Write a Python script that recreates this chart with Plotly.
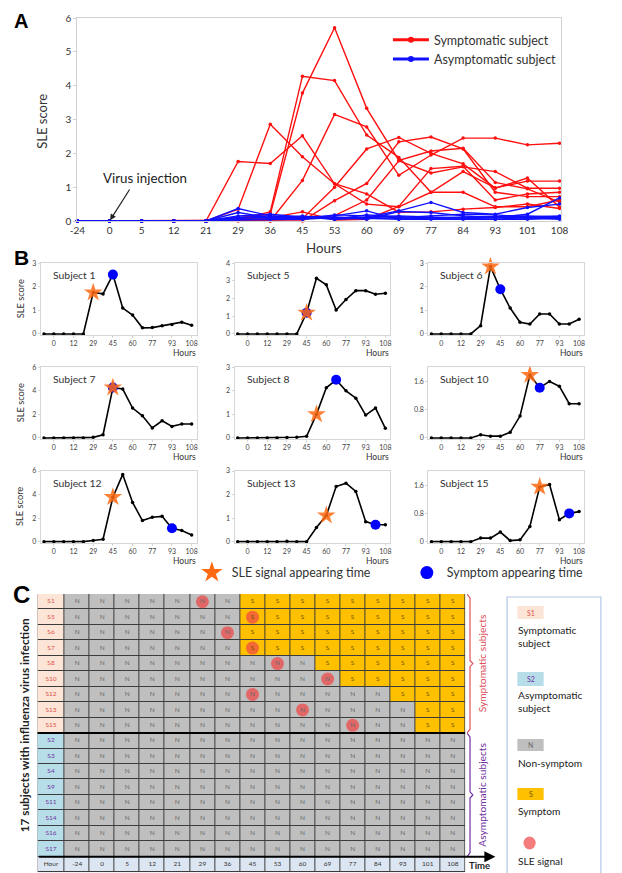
import plotly.graph_objects as go

# The page body adds an 8 px margin, so the figure is drawn 8 px smaller and
# every reference pixel position is shifted by that margin.
PAGE_W, PAGE_H, OFF = 622, 873, 8
W, H = PAGE_W - OFF, PAGE_H - OFF
FONT = "Lato"

# ---------------- data ----------------
hours = [-24, 0, 5, 12, 21, 29, 36, 45, 53, 60, 69, 77, 84, 93, 101, 108]
b_tick_hours = [0, 12, 29, 45, 60, 77, 93, 108]

sym_ids = ["S1", "S5", "S6", "S7", "S8", "S10", "S12", "S13", "S15"]
sym_titles = ["Subject 1", "Subject 5", "Subject 6", "Subject 7", "Subject 8",
              "Subject 10", "Subject 12", "Subject 13", "Subject 15"]
asym_ids = ["S2", "S3", "S4", "S9", "S11", "S14", "S16", "S17"]

sle_s1 = [0, 0, 0, 0, 0, 1.76, 1.70, 2.52, 1.10, 0.80, 0.26, 0.27, 0.35, 0.40, 0.50, 0.37]
sle_s5 = [0, 0, 0, 0, 0, 0, 0, 1.20, 3.15, 2.78, 1.35, 1.95, 2.45, 2.45, 2.25, 2.30]
sle_s6 = [0, 0, 0, 0, 0, 0.35, 2.86, 1.90, 1.10, 0.50, 0.42, 0.85, 0.85, 0.42, 0.42, 0.62]
sle_s7 = [0, 0, 0, 0, 0, 0.05, 0.27, 4.28, 4.15, 2.54, 1.88, 0.85, 1.46, 0.98, 1.18, 1.18]
sle_s8 = [0, 0, 0, 0, 0, 0.02, 0.03, 0.07, 1.00, 2.13, 2.47, 2.00, 1.69, 0.97, 1.27, 0.41]
sle_s10 = [0, 0, 0, 0, 0, 0.09, 0.05, 0.05, 0.16, 0.62, 1.78, 1.42, 1.60, 1.46, 0.97, 0.97]
sle_s12 = [0, 0, 0, 0, 0, 0.10, 0.20, 3.78, 5.71, 3.33, 1.79, 2.07, 2.15, 1.14, 0.95, 0.56]
sle_s13 = [0, 0, 0, 0, 0, 0.02, 0, 0, 0.60, 1.11, 2.34, 2.48, 2.13, 0.85, 0.72, 0.72]
sle_s15 = [0, 0, 0, 0, 0, 0.10, 0.10, 0.27, 0.03, 0.05, 0.43, 1.55, 1.62, 0.62, 0.80, 0.85]
sym_scores = [sle_s1, sle_s5, sle_s6, sle_s7, sle_s8, sle_s10, sle_s12, sle_s13, sle_s15]

sle_s2 = [0, 0, 0, 0, 0, 0.37, 0.15, 0.10, 0.08, 0.10, 0.08, 0.10, 0.12, 0.15, 0.15, 0.12]
sle_s3 = [0, 0, 0, 0, 0, 0.25, 0.10, 0.12, 0.15, 0.30, 0.05, 0.08, 0.10, 0.10, 0.20, 0.68]
sle_s4 = [0, 0, 0, 0, 0, 0.10, 0.15, 0.08, 0.10, 0.12, 0.30, 0.55, 0.25, 0.20, 0.40, 0.50]
sle_s9 = [0, 0, 0, 0, 0, 0.05, 0.05, 0.10, 0.12, 0.05, 0.28, 0.25, 0.15, 0.10, 0.12, 0.10]
sle_s11 = [0, 0, 0, 0, 0, 0.08, 0.12, 0.05, 0.18, 0.15, 0.10, 0.15, 0.20, 0.18, 0.12, 0.15]
sle_s14 = [0, 0, 0, 0, 0, 0.12, 0.08, 0.15, 0.05, 0.08, 0.05, 0.05, 0.05, 0.05, 0.05, 0.08]
sle_s16 = [0, 0, 0, 0, 0, 0.03, 0.05, 0.05, 0.10, 0.10, 0.15, 0.12, 0.08, 0.05, 0.10, 0.05]
sle_s17 = [0, 0, 0, 0, 0, 0.15, 0.20, 0.12, 0.05, 0.18, 0.12, 0.08, 0.10, 0.12, 0.08, 0.12]
asym_scores = [sle_s2, sle_s3, sle_s4, sle_s9, sle_s11, sle_s14, sle_s16, sle_s17]

sle_signal_hour = [29, 45, 36, 45, 53, 69, 45, 60, 77]
symptom_hour = [45, 45, 45, 45, 69, 77, 93, 101, 101]

b_ymax = [3, 4, 3, 6, 3, 2, 6, 3, 2]
b_yticks = [[0, 1, 2, 3], [0, 1, 2, 3, 4], [0, 1, 2, 3], [0, 2, 4, 6], [0, 1, 2, 3],
            [0, 0.8, 1.6], [0, 2, 4, 6], [0, 1, 2, 3], [0, 0.8, 1.6]]

# ---------------- helpers ----------------
def px(x):
    return (x - OFF) / W


def py(y):
    return 1 - (y - OFF) / H


def note(text, x, y, size, color="#222", xref="paper", yref="paper", xa="center",
         ya="middle", angle=0, family=FONT, align="center", pad=1):
    return dict(text=text, x=x, y=y, xref=xref, yref=yref, xanchor=xa, yanchor=ya,
                textangle=angle, showarrow=False, align=align, borderpad=pad,
                font=dict(size=size, color=color, family=family))


idx = list(range(len(hours)))
fig = go.Figure()
layout = dict(width=W, height=H, margin=dict(l=0, r=0, t=0, b=0),
              paper_bgcolor="white", plot_bgcolor="white", template="none",
              font=dict(family=FONT, color="#222"), showlegend=True)
annotations = []
shapes = []

# ---------------- Panel A ----------------
RED, BLUE = "#FF1010", "#1010FF"
for i, vals in enumerate(sym_scores):
    fig.add_trace(go.Scatter(x=idx, y=vals, xaxis="x", yaxis="y", mode="lines+markers",
                             line=dict(color=RED, width=1.4), marker=dict(size=3.5, color=RED),
                             showlegend=False, cliponaxis=False, hoverinfo="skip"))
for i, vals in enumerate(asym_scores):
    fig.add_trace(go.Scatter(x=idx, y=vals, xaxis="x", yaxis="y", mode="lines+markers",
                             line=dict(color=BLUE, width=1.4), marker=dict(size=3.5, color=BLUE),
                             showlegend=False, cliponaxis=False, hoverinfo="skip"))
# legend keys (no data, only the legend entries drawn with a heavier line)
for name, col, rank in [("Symptomatic subject", RED, 1), ("Asymptomatic subject", BLUE, 2)]:
    fig.add_trace(go.Scatter(x=[None], y=[None], xaxis="x", yaxis="y", mode="lines+markers",
                             line=dict(color=col, width=3), marker=dict(size=6, color=col),
                             name=name, legend="legend", legendrank=rank, hoverinfo="skip"))

layout["xaxis"] = dict(domain=[px(82), px(598)], range=[0, 15.06], tickvals=idx,
                       ticktext=[str(h) for h in hours], tickfont=dict(size=10, color="#333"),
                       showline=True, mirror=True, linecolor="#D0D0D0", ticks="",
                       showgrid=False, zeroline=False)
layout["yaxis"] = dict(domain=[py(221), py(18)], range=[0, 6], tickvals=[0, 1, 2, 3, 4, 5, 6],
                       tickfont=dict(size=10, color="#333"), showline=True, mirror=True,
                       linecolor="#D0D0D0", ticks="outside", ticklen=3, tickcolor="#D0D0D0",
                       showgrid=False, zeroline=False)
layout["legend"] = dict(x=px(413), y=py(25), xanchor="left", yanchor="top",
                        font=dict(size=12.5, color="#333", family=FONT),
                        bgcolor="rgba(0,0,0,0)", tracegroupgap=1, itemwidth=36)

annotations += [
    note("<b>A</b>", px(22), py(8.5), 20, "black", ya="top", family="Liberation Sans", pad=0),
    note("SLE score", px(44), py(121), 13, "#333", angle=-90),
    note("Hours", px(345), py(248), 13.3, "#333"),
    note("Virus injection", px(154), py(178), 13.3, "#222"),
    dict(text="", x=1, y=0, xref="x", yref="y", ax=21, ay=-33, showarrow=True,
         arrowhead=2, arrowsize=1, arrowwidth=1.2, arrowcolor="#222", standoff=1),
]

# ---------------- Panel B ----------------
STAR_C, DOT_C = "#FF6A10", "#0000FF"
cols_x = [(43, 209), (249.5, 415.5), (456, 622)]
rows_y = [(263.3, 335), (367.3, 439), (471, 542.7)]
for k, vals in enumerate(sym_scores):
    n = k + 2
    r, c = divmod(k, 3)
    xa, ya = f"x{n}", f"y{n}"
    fig.add_trace(go.Scatter(x=idx, y=vals, xaxis=xa, yaxis=ya, mode="lines+markers",
                             line=dict(color="black", width=1.6), marker=dict(size=3.5, color="black"),
                             showlegend=False, cliponaxis=False, hoverinfo="skip"))
    j_sym = hours.index(symptom_hour[k])
    j_sle = hours.index(sle_signal_hour[k])
    fig.add_trace(go.Scatter(x=[j_sym], y=[vals[j_sym]], xaxis=xa, yaxis=ya, mode="markers",
                             marker=dict(symbol="circle", size=10, color=DOT_C),
                             showlegend=False, cliponaxis=False, hoverinfo="skip"))
    fig.add_trace(go.Scatter(x=[j_sle], y=[vals[j_sle]], xaxis=xa, yaxis=ya, mode="markers",
                             marker=dict(symbol="star", size=14, color=STAR_C, opacity=0.85),
                             showlegend=False, cliponaxis=False, hoverinfo="skip"))
    l, rr = cols_x[c]
    t, b = rows_y[r]
    ym = b_ymax[k]
    layout[f"xaxis{n}"] = dict(domain=[px(l), min(1, px(rr))], range=[-0.32, 15.5],
                               tickvals=[hours.index(h) for h in b_tick_hours],
                               ticktext=[str(h) for h in b_tick_hours],
                               tickfont=dict(size=7, color="#444"), showline=True, mirror=True,
                               linecolor="#D6D6D6", ticks="outside", ticklen=2, tickcolor="#D6D6D6",
                               showgrid=False, zeroline=False, anchor=ya)
    layout[f"yaxis{n}"] = dict(domain=[py(b), py(t)], range=[-0.015 * ym, ym],
                               tickvals=b_yticks[k], ticktext=[f"{v:g}" for v in b_yticks[k]],
                               tickfont=dict(size=7, color="#444"), showline=True, mirror=True,
                               linecolor="#D6D6D6", ticks="outside", ticklen=2, tickcolor="#D6D6D6",
                               showgrid=False, zeroline=False, anchor=xa)
    annotations.append(note(sym_titles[k], 0.065, 0.835, 10.4, "#333", xref=f"{xa} domain",
                            yref=f"{ya} domain", xa="left"))
    annotations.append(note("Hours", 1, -18 / 71.7, 8.5, "#333", xref=f"{xa} domain",
                            yref=f"{ya} domain", xa="right", pad=0))
    if c == 0:
        annotations.append(note("SLE score", px(21), 0.5, 9.3, "#333", yref=f"{ya} domain",
                                angle=-90))

# legend keys for panel B markers (no data)
fig.add_trace(go.Scatter(x=[None], y=[None], xaxis="x2", yaxis="y2", mode="markers",
                         marker=dict(symbol="star", size=16, color=STAR_C),
                         name="SLE signal appearing time", legend="legend2", legendrank=1,
                         hoverinfo="skip"))
fig.add_trace(go.Scatter(x=[None], y=[None], xaxis="x2", yaxis="y2", mode="markers",
                         marker=dict(symbol="circle", size=13, color=DOT_C),
                         name="Symptom appearing time", legend="legend2", legendrank=2,
                         hoverinfo="skip"))

annotations.append(note("<b>B</b>", px(22), py(258), 21, "black", family="Liberation Sans"))
layout["legend2"] = dict(orientation="h", x=px(204), y=py(573), xanchor="left", yanchor="middle",
                         font=dict(size=12.4, color="#333", family=FONT), bgcolor="rgba(0,0,0,0)",
                         entrywidth=170, entrywidthmode="pixels", itemsizing="trace")

# ---------------- Panel C ----------------
row_ids = sym_ids + asym_ids + ["Hour"]
z, txt, tcol = [], [], []
tx, ty = [], []
for ri, rid in enumerate(row_ids):
    zr = []
    if ri < len(sym_ids):
        zr.append(0)
        tx.append(-0.545); ty.append(ri + 0.5); txt.append(rid); tcol.append("#E0504A")
        for j, h in enumerate(hours):
            s = h >= symptom_hour[ri]
            zr.append(3 if s else 2)
            tx.append(j + 0.5); ty.append(ri + 0.5)
            txt.append("S" if s else "N"); tcol.append("#6B5200" if s else "#6A6A6A")
    elif rid != "Hour":
        zr.append(1)
        tx.append(-0.545); ty.append(ri + 0.5); txt.append(rid); tcol.append("#7030A0")
        for j, h in enumerate(hours):
            zr.append(2)
            tx.append(j + 0.5); ty.append(ri + 0.5); txt.append("N"); tcol.append("#6A6A6A")
    else:
        zr.append(4)
        tx.append(-0.545); ty.append(ri + 0.5); txt.append("Hour"); tcol.append("#333")
        for j, h in enumerate(hours):
            zr.append(4)
            tx.append(j + 0.5); ty.append(ri + 0.5); txt.append(str(h)); tcol.append("#333")
    z.append(zr)

LBL_W = 1.09
x_edges = [-LBL_W] + list(range(len(hours) + 1))
y_edges = list(range(len(row_ids) + 1))
cs = [[0, "#FCE4D6"], [0.125, "#FCE4D6"], [0.125, "#B7DEE8"], [0.375, "#B7DEE8"],
      [0.375, "#BFBFBF"], [0.625, "#BFBFBF"], [0.625, "#FFC000"], [0.875, "#FFC000"],
      [0.875, "#DCE6F2"], [1, "#DCE6F2"]]
fig.add_trace(go.Heatmap(z=z, x=x_edges, y=y_edges, colorscale=cs, zmin=0, zmax=4,
                         showscale=False, xgap=1, ygap=1, xaxis="x11", yaxis="y11",
                         hoverinfo="skip"))
sx = [hours.index(h) + 0.5 for h in sle_signal_hour]
sy = [i + 0.5 for i in range(len(sym_ids))]
fig.add_trace(go.Scatter(x=sx, y=sy, xaxis="x11", yaxis="y11", mode="markers",
                         marker=dict(size=13, color="rgba(240,70,70,0.72)"),
                         showlegend=False, hoverinfo="skip"))
fig.add_trace(go.Scatter(x=tx, y=ty, xaxis="x11", yaxis="y11", mode="text", text=txt,
                         textfont=dict(size=6.5, color=tcol, family=FONT),
                         showlegend=False, hoverinfo="skip"))
n_rows = len(row_ids)
layout["xaxis11"] = dict(domain=[px(39.3), px(495.5)], range=[-LBL_W, len(hours)],
                         visible=False, anchor="y11")
layout["yaxis11"] = dict(domain=[max(0, py(872.2)), py(594)], range=[n_rows, 0], visible=False,
                         anchor="x11")

shapes.append(dict(type="rect", xref="x11", yref="y11", x0=-LBL_W, x1=len(hours), y0=0,
                   y1=n_rows, fillcolor="#3C3C3C", line=dict(width=0), layer="below"))
shapes.append(dict(type="line", xref="x11", yref="y11", x0=-LBL_W, x1=len(hours),
                   y0=len(sym_ids), y1=len(sym_ids), line=dict(color="black", width=2)))
annotations.append(dict(text="", x=len(hours) + 1.2, y=n_rows - 1, xref="x11", yref="y11",
                        ax=-LBL_W, ay=n_rows - 1, axref="x11", ayref="y11", showarrow=True,
                        arrowhead=2, arrowsize=1, arrowwidth=2.2, arrowcolor="black", standoff=0))
annotations.append(note("<b>Time</b>", px(511), py(865), 9.5, "#222"))

# brackets
def bracket(y0, y1, color):
    xl, xm, xr = px(497.5), px(500.5), px(503.5)
    ym = (y0 + y1) / 2
    return dict(type="path", xref="paper", yref="y11", line=dict(color=color, width=1.2),
                path=(f"M {xl},{y0 + 0.02} L {xm},{y0 + 0.25} L {xm},{ym - 0.2} L {xr},{ym} "
                      f"L {xm},{ym + 0.2} L {xm},{y1 - 0.25} L {xl},{y1 - 0.02}"))


shapes.append(bracket(0, len(sym_ids), "#E0505A"))
shapes.append(bracket(len(sym_ids), n_rows - 1, "#7030A0"))
annotations.append(note("Symptomatic subjects", px(513), len(sym_ids) / 2, 10.2, "#E0505A",
                        yref="y11", angle=-90))
annotations.append(note("Asymptomatic subjects", px(513), (len(sym_ids) + n_rows - 1) / 2, 10.2,
                        "#7030A0", yref="y11", angle=-90))
annotations.append(note("<b>17 subjects with influenza virus infection</b>", px(25),
                        (n_rows - 1) / 2, 11.8, "#222", yref="y11", angle=-90))
annotations.append(note("<b>C</b>", px(22), py(594.5), 24, "black", family="Liberation Sans"))

# legend box for panel C
shapes.append(dict(type="rect", xref="paper", yref="paper", x0=px(540), x1=px(640),
                   y0=py(890), y1=py(597), line=dict(color="#B4C6E7", width=1.2),
                   fillcolor="rgba(0,0,0,0)"))
leg_items = [
    ("rect", "#FCE4D6", "S1", "#E0504A", 606, 619, "Symptomatic<br>subject", 636),
    ("rect", "#B7DEE8", "S2", "#7030A0", 672, 686, "Asymptomatic<br>subject", 701),
    ("rect", "#BFBFBF", "N", "#6A6A6A", 739, 751, "Non-symptom", 763),
    ("rect", "#FFC000", "S", "#6B5200", 788, 800, "Symptom", 811),
    ("circle", "#F47C7C", "", "#000", 836.5, 849.5, "SLE signal", 861),
]
for kind, fill, lab, lcol, y0, y1, desc, ydesc in leg_items:
    if kind == "rect":
        x0, x1 = 551, 579
    else:
        x0, x1 = 557.5, 570.5
    shapes.append(dict(type=kind, xref="paper", yref="paper", x0=px(x0), x1=px(x1),
                       y0=py(y1), y1=py(y0), fillcolor=fill, line=dict(width=0)))
    if lab:
        annotations.append(note(lab, px((x0 + x1) / 2), py((y0 + y1) / 2), 7, lcol))
    annotations.append(note(desc, px(550), py(ydesc), 10.2, "#222", xa="left", align="left"))

layout["annotations"] = annotations
layout["shapes"] = shapes
fig.update_layout(**layout)
fig.write_html("out.html")
